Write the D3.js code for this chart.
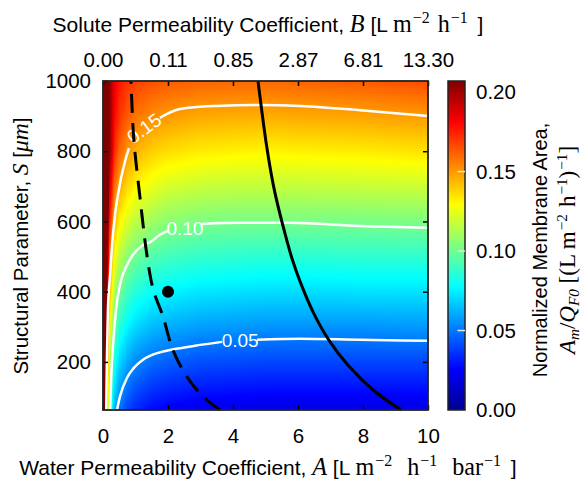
<!DOCTYPE html>
<html>
<head>
<meta charset="utf-8">
<script src="https://d3js.org/d3.v7.min.js"></script>
<style>
  body { margin: 0; background: #fff; }
  svg { display: block; font-family: "Liberation Sans", Arial, sans-serif; }
</style>
</head>
<body>
<svg id="chart"></svg>
<script>
// grid: columns are A, rows are S
const waterPerm = [0, 0.1, 0.2, 0.35, 0.5, 0.75, 1, 1.5, 2, 3, 4, 5, 6, 8, 10];
const structParam = [63, 100, 200, 300, 400, 500, 600, 700, 800, 900, 1000];
const normArea = [
  [0.42, 0.169, 0.094, 0.062, 0.049, 0.039, 0.033, 0.027, 0.024, 0.021, 0.020, 0.019, 0.019, 0.019, 0.019],
  [0.43, 0.175, 0.100, 0.068, 0.055, 0.045, 0.039, 0.033, 0.030, 0.027, 0.026, 0.025, 0.025, 0.025, 0.025],
  [0.44, 0.190, 0.115, 0.083, 0.070, 0.060, 0.054, 0.048, 0.045, 0.042, 0.041, 0.040, 0.040, 0.040, 0.040],
  [0.46, 0.206, 0.131, 0.099, 0.086, 0.076, 0.070, 0.064, 0.061, 0.058, 0.057, 0.056, 0.056, 0.056, 0.057],
  [0.47, 0.221, 0.146, 0.114, 0.101, 0.091, 0.085, 0.079, 0.076, 0.073, 0.072, 0.071, 0.071, 0.072, 0.072],
  [0.49, 0.236, 0.161, 0.129, 0.116, 0.106, 0.100, 0.094, 0.091, 0.088, 0.087, 0.086, 0.086, 0.087, 0.087],
  [0.50, 0.252, 0.177, 0.145, 0.132, 0.122, 0.116, 0.110, 0.106, 0.103, 0.102, 0.102, 0.102, 0.102, 0.103],
  [0.52, 0.267, 0.192, 0.160, 0.147, 0.137, 0.131, 0.125, 0.121, 0.118, 0.117, 0.117, 0.117, 0.118, 0.119],
  [0.53, 0.281, 0.206, 0.174, 0.161, 0.151, 0.145, 0.139, 0.136, 0.133, 0.132, 0.131, 0.132, 0.133, 0.135],
  [0.50, 0.266, 0.206, 0.181, 0.171, 0.163, 0.158, 0.153, 0.150, 0.147, 0.146, 0.146, 0.147, 0.148, 0.150],
  [0.46, 0.250, 0.205, 0.185, 0.177, 0.171, 0.168, 0.165, 0.163, 0.161, 0.1605, 0.160, 0.161, 0.163, 0.166]
];

const xTicks = [0, 2, 4, 6, 8, 10];
const soluteLabels = ["0.00", "0.11", "0.85", "2.87", "6.81", "13.30"];
const yTicks = [200, 400, 600, 800, 1000];
const cbarTicks = [0, 0.05, 0.1, 0.15, 0.2];
const contourLevels = ["0.05", "0.10", "0.15"];

// contour lines [A, S]; null = gap for the label
const contour05 = [[0.43, 63], [0.52, 101], [0.74, 155], [0.95, 183], [1.23, 206], [1.6, 223], [2.06, 234], [2.83, 246], [3.66, 257], null,
  [4.74, 263], [6.06, 266], [7.91, 263], [10, 260]];
const contour10 = [[0.22, 63], [0.25, 149], [0.31, 249], [0.4, 348], [0.52, 419], [0.74, 476], [0.92, 505], [1.23, 533], [1.45, 541], [1.75, 562], [2.0, 573], null,
  [3.05, 593], [4.2, 596], [5.75, 596], [7.9, 587], [10, 582]];
const contour15 = [[0.1, 63], [0.12, 206], [0.15, 345], [0.22, 448], [0.28, 533], [0.37, 619], [0.46, 676], [0.68, 772], [0.8, 809], null,
  [1.75, 895], [2.37, 920], [3.5, 929], [4.83, 932], [6.06, 929], [7.91, 917], [10, 900]];
const contourLabelPos = [[4.22, 263], [2.52, 582], [1.26, 866]];

const solidBoundary = [[4.77, 1000], [5.03, 818], [5.26, 695], [5.53, 590], [5.83, 490], [6.08, 425], [6.48, 339], [6.95, 262], [7.56, 188], [8.31, 120], [9.17, 63]];
const dashedBoundary = [[0.86, 1000], [0.95, 832], [1.14, 667], [1.35, 505], [1.54, 408], [1.85, 328], [2.15, 234], [2.58, 158], [3.08, 101], [3.6, 63]];
const currentMembrane = [2, 400];

const width = 582;
const height = 482;
const plot = { left: 103, right: 428, top: 81, bottom: 410 };
const cbar = { left: 448, right: 465 };
const cmax = 0.207;
const fs = 20.5;
const serif = "'Liberation Serif', 'Times New Roman', serif";

const svg = d3.select("#chart").attr("width", width).attr("height", height);

const xScale = d3.scaleLinear().domain([0, 10]).range([plot.left, plot.right]);
const yScale = d3.scaleLinear().domain([63, 1000]).range([plot.bottom, plot.top]);
const cScale = d3.scaleLinear().domain([0, cmax]).range([plot.bottom, plot.top]);

// jet colormap
const jetStops = [0, 0.125, 0.375, 0.625, 0.875, 1];
const colour = d3.scaleLinear()
  .domain(jetStops.map((t) => t * cmax))
  .range(["#00008f", "#0000ff", "#00ffff", "#ffff00", "#ff0000", "#800000"])
  .clamp(true);

const areaAt = (a, s) => {
  let i = d3.bisectRight(waterPerm, a) - 1;
  i = Math.max(0, Math.min(i, waterPerm.length - 2));
  let j = d3.bisectRight(structParam, s) - 1;
  j = Math.max(0, Math.min(j, structParam.length - 2));
  const ta = Math.max(0, Math.min(1, (a - waterPerm[i]) / (waterPerm[i + 1] - waterPerm[i])));
  const ts = Math.max(0, Math.min(1, (s - structParam[j]) / (structParam[j + 1] - structParam[j])));
  const lo = normArea[j][i] * (1 - ta) + normArea[j][i + 1] * ta;
  const hi = normArea[j + 1][i] * (1 - ta) + normArea[j + 1][i + 1] * ta;
  return lo * (1 - ts) + hi * ts;
};

// heat map painted on a canvas, then placed in the svg
const drawHeatmap = () => {
  const w = plot.right - plot.left;
  const h = plot.bottom - plot.top;
  const cnv = document.createElement("canvas");
  cnv.width = w;
  cnv.height = h;
  const ctx = cnv.getContext("2d");
  const img = ctx.createImageData(w, h);
  const lut = d3.range(1024).map((k) => d3.rgb(colour((k / 1023) * cmax)));
  for (let py = 0; py < h; py++) {
    const s = yScale.invert(plot.top + py + 0.5);
    for (let px = 0; px < w; px++) {
      const a = xScale.invert(plot.left + px + 0.5);
      const v = Math.min(cmax, areaAt(a, s));
      const c = lut[Math.round((v / cmax) * 1023)];
      const k = (py * w + px) * 4;
      img.data[k] = c.r;
      img.data[k + 1] = c.g;
      img.data[k + 2] = c.b;
      img.data[k + 3] = 255;
    }
  }
  ctx.putImageData(img, 0, 0);
  svg.append("image")
    .attr("x", plot.left)
    .attr("y", plot.top)
    .attr("width", w)
    .attr("height", h)
    .attr("preserveAspectRatio", "none")
    .attr("href", cnv.toDataURL());
};

const drawContours = () => {
  const line = d3.line()
    .defined((d) => d !== null)
    .x((d) => xScale(d[0]))
    .y((d) => yScale(d[1]))
    .curve(d3.curveMonotoneX);
  [contour05, contour10, contour15].forEach((c) => {
    svg.append("path")
      .attr("d", line(c))
      .attr("fill", "none")
      .attr("stroke", "#fff")
      .attr("stroke-width", 2.5);
  });
  const angles = [0, 0, -36];
  contourLevels.forEach((lab, i) => {
    const [a, s] = contourLabelPos[i];
    svg.append("text")
      .attr("transform", `translate(${xScale(a)},${yScale(s)}) rotate(${angles[i]})`)
      .attr("text-anchor", "middle")
      .attr("dy", "0.36em")
      .attr("font-size", 19)
      .attr("fill", "#fff")
      .text(lab);
  });
};

const drawBoundaries = () => {
  const line = d3.line()
    .x((d) => xScale(d[0]))
    .y((d) => yScale(d[1]))
    .curve(d3.curveCatmullRom.alpha(0.5));
  svg.append("path")
    .attr("d", line(solidBoundary))
    .attr("fill", "none")
    .attr("stroke", "#000")
    .attr("stroke-width", 3);
  svg.append("path")
    .attr("d", line(dashedBoundary))
    .attr("fill", "none")
    .attr("stroke", "#000")
    .attr("stroke-width", 3)
    .attr("stroke-dasharray", "19,10")
    .attr("stroke-dashoffset", 16);
  svg.append("circle")
    .attr("cx", xScale(currentMembrane[0]))
    .attr("cy", yScale(currentMembrane[1]))
    .attr("r", 6)
    .attr("fill", "#000");
};

const styleAxis = (g) => {
  g.attr("font-size", fs).attr("font-family", "'Liberation Sans', Arial, sans-serif");
  g.select(".domain").remove();
  g.selectAll(".tick line").attr("stroke", "#000").attr("stroke-width", 1.5);
  g.selectAll(".tick text").attr("fill", "#000");
};

const drawAxes = () => {
  svg.append("g")
    .attr("transform", `translate(0,${plot.bottom})`)
    .call(d3.axisBottom(xScale).tickValues(xTicks).tickFormat(d3.format("d")).tickSize(-5).tickPadding(18))
    .call(styleAxis);

  svg.append("g")
    .attr("transform", `translate(0,${plot.top})`)
    .call(d3.axisTop(xScale).tickValues(xTicks).tickFormat((d, i) => soluteLabels[i]).tickSize(-5).tickPadding(14))
    .call(styleAxis);

  svg.append("g")
    .attr("transform", `translate(${plot.left},0)`)
    .call(d3.axisLeft(yScale).tickValues(yTicks).tickFormat(d3.format("d")).tickSize(-5).tickPadding(12))
    .call(styleAxis);

  svg.append("g")
    .attr("transform", `translate(${plot.right},0)`)
    .call(d3.axisRight(yScale).tickValues(yTicks.slice(0, -1)).tickFormat("").tickSize(-5))
    .call(styleAxis);

  svg.append("rect")
    .attr("x", plot.left)
    .attr("y", plot.top)
    .attr("width", plot.right - plot.left)
    .attr("height", plot.bottom - plot.top)
    .attr("fill", "none")
    .attr("stroke", "#222")
    .attr("stroke-width", 1.8);
};

const drawColorbar = () => {
  const grad = svg.append("defs").append("linearGradient")
    .attr("id", "jet")
    .attr("x1", 0).attr("y1", 1).attr("x2", 0).attr("y2", 0);
  jetStops.forEach((t) => {
    grad.append("stop").attr("offset", t).attr("stop-color", colour(t * cmax));
  });
  svg.append("rect")
    .attr("x", cbar.left)
    .attr("y", plot.top)
    .attr("width", cbar.right - cbar.left)
    .attr("height", plot.bottom - plot.top)
    .attr("fill", "url(#jet)")
    .attr("stroke", "#222")
    .attr("stroke-width", 1.5);
  svg.selectAll(".cbar-level")
    .data(contourLevels.map(Number))
    .enter()
    .append("line")
    .attr("x1", (cbar.left + cbar.right) / 2 + 1)
    .attr("x2", cbar.right)
    .attr("y1", (d) => cScale(d))
    .attr("y2", (d) => cScale(d))
    .attr("stroke", "#e8e8e8")
    .attr("stroke-width", 1.5);
  svg.append("g")
    .attr("transform", `translate(${cbar.right},0)`)
    .call(d3.axisRight(cScale).tickValues(cbarTicks).tickFormat(d3.format(".2f")).tickSize(0).tickPadding(11))
    .call(styleAxis);
};

// text with italic / serif / super- and subscript parts; optional extra gap before a part
const richText = (x, y, rot, size, parts) => {
  const t = svg.append("text")
    .attr("transform", `translate(${x},${y}) rotate(${rot})`)
    .attr("text-anchor", "middle")
    .attr("font-size", size)
    .attr("fill", "#000");
  let shift = 0;
  parts.forEach(([str, kind, gap]) => {
    const ts = t.append("tspan").text(str);
    const big = kind.includes("serif") ? size * 1.15 : size;
    let target = 0;
    if (kind.includes("sup")) target = -0.42 * size;
    if (kind.includes("sub")) target = 0.2 * size;
    ts.attr("dy", target - shift);
    if (gap) ts.attr("dx", gap);
    shift = target;
    ts.attr("font-size", target !== 0 ? size * 0.76 : big);
    if (kind.includes("serif")) ts.attr("font-family", serif);
    if (kind.includes("ital")) ts.attr("font-style", "italic");
  });
};

const drawTitles = () => {
  richText(268, 32, 0, 21, [
    ["Solute Permeability Coefficient, ", "sans"],
    ["B", "serif ital"],
    [" [L ", "sans"],
    ["m", "serif"],
    ["\u22122", "serif sup", 1],
    ["h", "serif", 8],
    ["\u22121", "serif sup", 1],
    [" ]", "sans", 4]
  ]);

  richText(268, 475, 0, 21, [
    ["Water Permeability Coefficient, ", "sans"],
    ["A", "serif ital"],
    [" [L ", "sans"],
    ["m", "serif"],
    ["\u22122", "serif sup", 1],
    ["h", "serif", 15],
    ["\u22121", "serif sup", 1],
    ["bar", "serif", 15],
    ["\u22121", "serif sup", 1],
    [" ]", "sans", 4]
  ]);

  richText(28, 246, -90, fs, [
    ["Structural Parameter, ", "sans"],
    ["S", "serif ital"],
    [" [", "sans"],
    ["\u03bcm", "serif ital"],
    ["]", "sans"]
  ]);

  richText(547, 250, -90, 20, [["Normalized Membrane Area,", "sans"]]);

  richText(575, 250, -90, 20, [
    ["A", "serif ital"],
    ["m", "serif ital sub"],
    ["/", "serif"],
    ["Q", "serif ital"],
    ["F0", "serif ital sub"],
    [" [(L m", "serif"],
    ["\u22122", "serif sup", 1],
    ["h", "serif", 7],
    ["\u22121", "serif sup", 1],
    [")", "serif"],
    ["\u22121", "serif sup", 1],
    ["]", "serif"]
  ]);
};

drawHeatmap();
drawContours();
drawBoundaries();
drawAxes();
drawColorbar();
drawTitles();
</script>
</body>
</html>
